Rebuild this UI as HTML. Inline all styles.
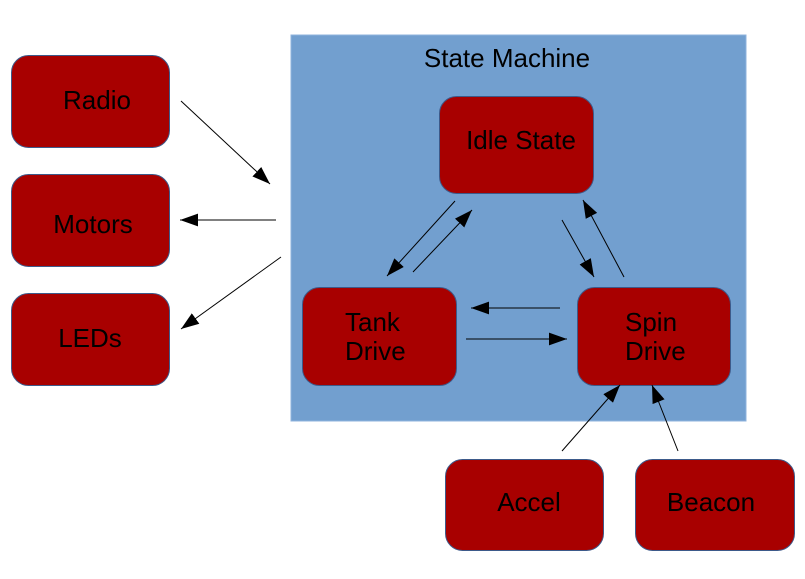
<!DOCTYPE html>
<html><head><meta charset="utf-8"><style>
html,body{margin:0;padding:0;background:#fff;}
svg{display:block;}
text{font-family:"Liberation Sans",sans-serif;font-size:26px;fill:#000;}
</style></head><body>
<svg width="805" height="579" viewBox="0 0 805 579" xmlns="http://www.w3.org/2000/svg">
<defs>
<marker id="a" viewBox="0 0 14 10" refX="14" refY="5" markerWidth="18" markerHeight="13" markerUnits="userSpaceOnUse" orient="auto">
<path d="M0,0 L14,5 L0,10 z" fill="#000"/>
</marker>
</defs>
<rect x="291" y="35" width="455" height="386" fill="#729fcf" stroke="#8fb3dc" stroke-width="1"/>
<g fill="#a80000" stroke="#3d5a8a" stroke-width="1">
<rect x="11.5" y="55.5" width="158" height="92" rx="17"/>
<rect x="11.5" y="174.5" width="158" height="92" rx="17"/>
<rect x="11.5" y="293.5" width="158" height="92" rx="17"/>
<rect x="439.5" y="96.5" width="154" height="97" rx="17"/>
<rect x="302.5" y="287.5" width="154" height="98" rx="17"/>
<rect x="577.5" y="287.5" width="153" height="98" rx="17"/>
<rect x="445.5" y="459.5" width="158" height="91" rx="17"/>
<rect x="635.5" y="459.5" width="159" height="91" rx="17"/>
</g>
<text x="507" y="67" text-anchor="middle">State Machine</text>
<text x="97" y="109" text-anchor="middle">Radio</text>
<text x="93" y="233" text-anchor="middle">Motors</text>
<text x="90" y="347" text-anchor="middle">LEDs</text>
<text x="521" y="149" text-anchor="middle">Idle State</text>
<text x="345" y="331">Tank</text>
<text x="345" y="360">Drive</text>
<text x="625" y="331">Spin</text>
<text x="625" y="360">Drive</text>
<text x="529" y="511" text-anchor="middle">Accel</text>
<text x="711" y="511" text-anchor="middle">Beacon</text>
<g stroke="#000" stroke-width="1" fill="none" marker-end="url(#a)">
<line x1="181" y1="101" x2="270" y2="184"/>
<line x1="276" y1="220" x2="180" y2="220"/>
<line x1="281" y1="257" x2="181" y2="329"/>
<line x1="455" y1="201" x2="387" y2="276"/>
<line x1="413" y1="272" x2="472" y2="210"/>
<line x1="562" y1="220" x2="594" y2="277"/>
<line x1="624" y1="277" x2="583" y2="200"/>
<line x1="560" y1="308" x2="471" y2="308"/>
<line x1="466" y1="339" x2="567" y2="339"/>
<line x1="562" y1="451" x2="620" y2="385"/>
<line x1="678" y1="451" x2="652" y2="385"/>
</g>
</svg>
</body></html>
